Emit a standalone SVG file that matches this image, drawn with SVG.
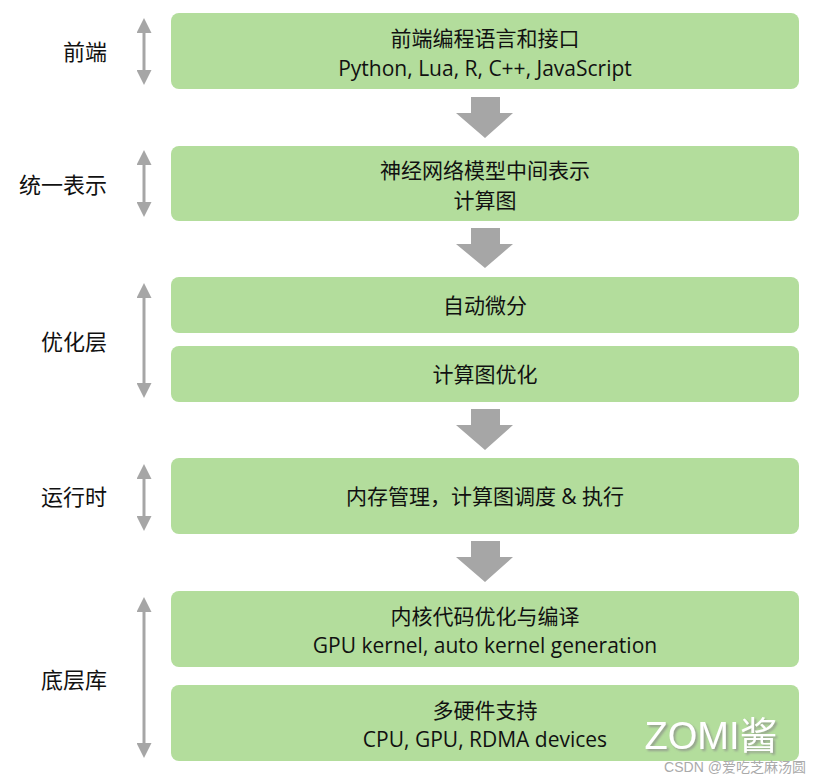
<svg xmlns="http://www.w3.org/2000/svg" width="827" height="779" viewBox="0 0 827 779">
<style>
.box{fill:#b3dd9c}
text{font-family:"Open Sans","Noto Sans CJK SC",sans-serif;font-size:21px;fill:#111;text-anchor:middle}
.lab{font-size:22px}
.da{stroke:#a6a6a6;stroke-width:3;fill:none;marker-start:url(#h);marker-end:url(#h)}
.ba{fill:#a6a6a6}
</style>
<defs><marker id="h" viewBox="0 0 10 10" refX="2" refY="5" markerWidth="5.5" markerHeight="5" orient="auto-start-reverse" markerUnits="strokeWidth"><path d="M0,0L10,5L0,10z" fill="#a6a6a6"/></marker>
<filter id="sh"><feDropShadow dx="2" dy="2" stdDeviation="1" flood-color="#888" flood-opacity="0.7"/></filter></defs>
<g id="labels">
<text class="lab" x="85" y="60">前端</text>
<text class="lab" x="63" y="193">统一表示</text>
<text class="lab" x="74" y="350">优化层</text>
<text class="lab" x="74" y="505">运行时</text>
<text class="lab" x="74" y="688">底层库</text>
</g>
<g id="connectors">
<line class="da" x1="144" y1="30" x2="144" y2="73"/>
<line class="da" x1="144" y1="162" x2="144" y2="205"/>
<line class="da" x1="144" y1="295" x2="144" y2="386"/>
<line class="da" x1="144" y1="476" x2="144" y2="519"/>
<line class="da" x1="144" y1="609" x2="144" y2="746"/>
<path class="ba" d="M471,97H500V113H513L485,138L456,113H471Z"/>
<path class="ba" d="M471,228H500V244H513L485,268L456,244H471Z"/>
<path class="ba" d="M471,409H500V425H513L485,450L456,425H471Z"/>
<path class="ba" d="M471,541H500V557H513L485,582L456,557H471Z"/>
</g>
<g id="n1"><rect class="box" x="171" y="13" width="628" height="76" rx="8"/><text x="485" y="46">前端编程语言和接口</text><text x="485" y="76">Python, Lua, R, C++, JavaScript</text></g>
<g id="n2"><rect class="box" x="171" y="146" width="628" height="75" rx="8"/><text x="485" y="178">神经网络模型中间表示</text><text x="485" y="208">计算图</text></g>
<g id="n3"><rect class="box" x="171" y="277" width="628" height="56" rx="8"/><text x="485" y="313">自动微分</text></g>
<g id="n4"><rect class="box" x="171" y="346" width="628" height="56" rx="8"/><text x="485" y="382">计算图优化</text></g>
<g id="n5"><rect class="box" x="171" y="458" width="628" height="76" rx="8"/><text x="485" y="504">内存管理，计算图调度 &amp; 执行</text></g>
<g id="n6"><rect class="box" x="171" y="591" width="628" height="76" rx="8"/><text x="485" y="624">内核代码优化与编译</text><text x="485" y="653">GPU kernel, auto kernel generation</text></g>
<g id="n7"><rect class="box" x="171" y="685" width="628" height="76" rx="8"/><text x="485" y="718">多硬件支持</text><text x="485" y="747">CPU, GPU, RDMA devices</text></g>
<g id="watermark">
<text x="711" y="749" filter="url(#sh)" style="font-size:38px;fill:#fff;font-family:'Liberation Sans','Noto Sans CJK SC',sans-serif">ZOMI酱</text>
<text x="735" y="772" style="font-size:14px;fill:#aaa;font-family:'Liberation Sans','Noto Sans CJK SC',sans-serif">CSDN @爱吃芝麻汤圆</text>
</g>
</svg>
